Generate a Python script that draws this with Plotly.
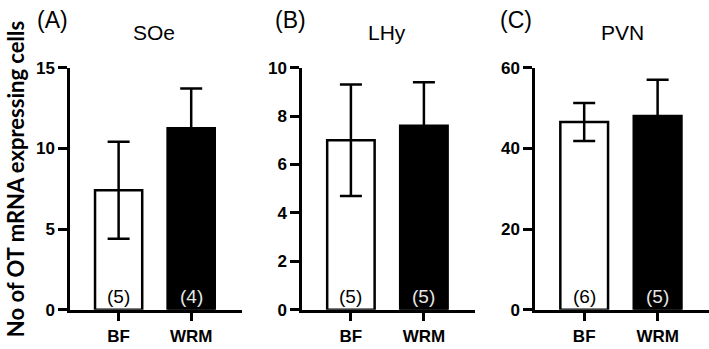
import plotly.graph_objects as go

groups = ["BF", "WRM"]
regions = ["SOe", "LHy", "PVN"]
panel_labels = ["(A)", "(B)", "(C)"]
means = {"SOe": [7.4, 11.25], "LHy": [7.0, 7.6], "PVN": [46.5, 48.0]}
errors = {"SOe": [3.0, 2.45], "LHy": [2.3, 1.8], "PVN": [4.7, 9.0]}
counts = {"SOe": ["(5)", "(4)"], "LHy": ["(5)", "(5)"], "PVN": ["(6)", "(5)"]}
y_max = {"SOe": 15, "LHy": 10, "PVN": 60}
y_dtick = {"SOe": 5, "LHy": 2, "PVN": 20}

W, H = 709, 349
x_px = [(70, 242), (302, 475), (535, 709)]
y_bottom_px, y_top_px = 318, 62
title_x_px = [154, 387, 622]
label_x_px = [35, 273, 498]

fig = go.Figure()
font_family = "Liberation Sans, Arial, sans-serif"

for i, reg in enumerate(regions):
    xa = "x" if i == 0 else f"x{i+1}"
    ya = "y" if i == 0 else f"y{i+1}"
    fig.add_trace(go.Bar(
        x=groups, y=means[reg], xaxis=xa, yaxis=ya,
        width=0.65,
        marker=dict(color=["white", "black"], line=dict(color="black", width=2.5)),
        error_y=dict(type="data", array=errors[reg], color="black", thickness=2.5, width=11),
        showlegend=False, hoverinfo="skip",
    ))
    dom_x = [x_px[i][0] / W, x_px[i][1] / W]
    dom_y = [(H - y_bottom_px) / H, (H - y_top_px) / H]
    axis_common = dict(showline=True, linecolor="black", linewidth=2.5, ticks="outside",
                       ticklen=9, tickwidth=2.5, tickcolor="black", showgrid=False, zeroline=False,
                       tickfont=dict(family=font_family, size=17, color="black", weight="bold"))
    fig.layout[f"xaxis{'' if i == 0 else i+1}"] = dict(
        domain=dom_x, anchor=ya, range=[-0.67, 1.7], type="category", **axis_common)
    fig.layout[f"yaxis{'' if i == 0 else i+1}"] = dict(
        domain=dom_y, anchor=xa, range=[0, y_max[reg]], dtick=y_dtick[reg], **axis_common)
    for j, g in enumerate(groups):
        fig.add_annotation(x=g, y=0, xref=xa, yref=ya, text=counts[reg][j], showarrow=False,
                           yanchor="bottom", yshift=1,
                           font=dict(family=font_family, size=19, color="black" if j == 0 else "#e6e6e6"))
    fig.add_annotation(x=title_x_px[i] / W, y=1 - 25 / H, xref="paper", yref="paper",
                       text=reg, showarrow=False, xanchor="center", yanchor="middle",
                       font=dict(family=font_family, size=21, color="black"))
    fig.add_annotation(x=label_x_px[i] / W, y=1 - 12 / H, xref="paper", yref="paper",
                       text=panel_labels[i], showarrow=False, xanchor="left", yanchor="middle",
                       font=dict(family=font_family, size=23, color="black"))

fig.add_annotation(x=15 / W, y=1 - 180 / H, xref="paper", yref="paper",
                   text="<b>No of OT mRNA expressing cells</b>", textangle=-90, showarrow=False,
                   xanchor="center", yanchor="middle",
                   font=dict(family="Lato, Open Sans, sans-serif", size=22, color="black"))

fig.update_layout(width=W, height=H, margin=dict(l=0, r=0, t=0, b=0),
                  plot_bgcolor="white", paper_bgcolor="white")

fig.write_html("out.html", config={"displayModeBar": False},
               post_script="document.body.style.margin='0';")
